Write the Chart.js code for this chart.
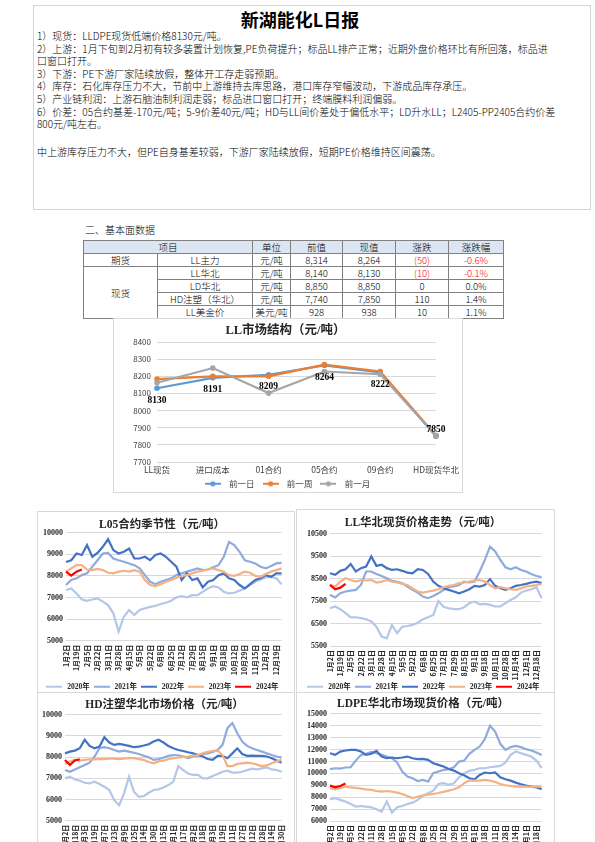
<!DOCTYPE html>
<html>
<head>
<meta charset="utf-8">
<script src="https://cdn.jsdelivr.net/npm/chart.js@4.4.1/dist/chart.umd.min.js"></script>
<style>
  body { margin: 0; width: 595px; height: 842px; overflow: hidden; background: #fff; position: relative;
         font-family: "Noto Sans CJK SC", sans-serif; color: #000; }
  .abs { position: absolute; }
  #report { left: 33px; top: 5px; width: 556px; height: 203px; border: 1px solid #d4d4d4; }
  #rtitle { left: 33px; top: 7px; width: 534px; text-align: center; font-size: 18px; font-weight: bold; line-height: 24px; }
  .rtext { left: 37px; width: 552px; font-size: 10px; line-height: 12.6px; white-space: pre; font-weight: 300; }
  #sec { left: 85px; top: 223px; font-size: 10px; line-height: 14px; font-weight: 300; }
  #tbl { left: 83px; top: 240px; border-collapse: collapse; font-size: 9.5px; table-layout: fixed; }
  #tbl td, #tbl th { border: 1px solid #808080; padding: 0; text-align: center; font-weight: 300; height: 12px; line-height: 12px; }
  #tbl th { background: #dce6f2; }
  #tbl .neg { color: #ff0000; }
  .frame { border: 1px solid #d9d9d9; }
  .box { position: absolute; }
</style>
</head>
<body>
<div id="report" class="abs"></div>
<div id="rtitle" class="abs">新湖能化L日报</div>
<div class="abs rtext" style="top:30px">1）现货：LLDPE现货低端价格8130元/吨。
2）上游：1月下旬到2月初有较多装置计划恢复,PE负荷提升；标品LL排产正常；近期外盘价格环比有所回落，标品进
口窗口打开。
3）下游：PE下游厂家陆续放假，整体开工存走弱预期。
4）库存：石化库存压力不大，节前中上游维持去库思路，港口库存窄幅波动，下游成品库存承压。
5）产业链利润：上游石脑油制利润走弱；标品进口窗口打开；终端膜料利润偏弱。
6）价差：05合约基差-170元/吨；5-9价差40元/吨；HD与LL间价差处于偏低水平；LD升水LL；L2405-PP2405合约价差
800元/吨左右。</div>
<div class="abs rtext" style="top:146px">中上游库存压力不大，但PE自身基差较弱，下游厂家陆续放假，短期PE价格维持区间震荡。</div>

<div id="sec" class="abs">二、基本面数据</div>
<table id="tbl" class="abs">
  <colgroup><col style="width:74px"><col style="width:95px"><col style="width:38px"><col style="width:52px"><col style="width:53px"><col style="width:53px"><col style="width:55px"></colgroup>
  <tr><th colspan="2">项目</th><th>单位</th><th>前值</th><th>现值</th><th>涨跌</th><th>涨跌幅</th></tr>
  <tr><td>期货</td><td>LL主力</td><td>元/吨</td><td>8,314</td><td>8,264</td><td class="neg">(50)</td><td class="neg">-0.6%</td></tr>
  <tr><td rowspan="4">现货</td><td>LL华北</td><td>元/吨</td><td>8,140</td><td>8,130</td><td class="neg">(10)</td><td class="neg">-0.1%</td></tr>
  <tr><td>LD华北</td><td>元/吨</td><td>8,850</td><td>8,850</td><td>0</td><td>0.0%</td></tr>
  <tr><td>HD注塑（华北）</td><td>元/吨</td><td>7,740</td><td>7,850</td><td>110</td><td>1.4%</td></tr>
  <tr><td>LL美金价</td><td>美元/吨</td><td>928</td><td>938</td><td>10</td><td>1.1%</td></tr>
</table>

<div class="abs frame" style="left:113px;top:318px;width:348px;height:173px"></div>
<div class="box" style="left:113px;top:318px;width:349px;height:181px"><canvas id="mkt"></canvas></div>

<div class="abs frame" style="left:37px;top:511px;width:256px;height:180px"></div>
<div class="abs frame" style="left:296px;top:509px;width:257px;height:182px"></div>
<div class="abs frame" style="left:37px;top:692px;width:256px;height:190px"></div>
<div class="abs frame" style="left:296px;top:692px;width:257px;height:190px"></div>
<div class="box" style="left:37px;top:511px;width:257px;height:194px"><canvas id="l05"></canvas></div>
<div class="box" style="left:296px;top:509px;width:258px;height:196px"><canvas id="llhb"></canvas></div>
<div class="box" style="left:37px;top:692px;width:257px;height:193px"><canvas id="hd"></canvas></div>
<div class="box" style="left:296px;top:692px;width:258px;height:193px"><canvas id="ldpe"></canvas></div>

<script>
// LL market structure
const mktCats = ['LL现货', '进口成本', '01合约', '05合约', '09合约', 'HD现货华北'];
const mktDay = [8130, 8191, 8209, 8264, 8222, 7850];
const mktWeek = [8184, 8200, 8200, 8268, 8228, 7855];
const mktMonth = [8162, 8248, 8102, 8228, 8212, 7855];

// seasonal charts: tick labels (every other category)
const l05Ticks = ['1月2日', '1月19日', '2月5日', '2月22日', '3月11日', '3月28日', '4月15日', '5月5日', '5月22日', '6月8日', '6月25日',
  '7月12日', '7月29日', '8月15日', '9月1日', '9月18日', '10月12日', '10月29日', '11月15日', '12月2日', '12月19日'];
const spotTicks = ['1月2日', '1月19日', '2月5日', '2月22日', '3月11日', '3月28日', '4月15日', '5月5日', '5月22日', '6月8日', '6月25日',
  '7月12日', '7月29日', '8月15日', '9月1日', '9月18日', '10月11日', '10月28日', '11月14日', '12月1日', '12月18日'];
const hdTicks = ['1月2日', '1月18日', '2月3日', '2月19日', '3月7日', '3月23日', '4月9日', '4月25日', '5月14日', '5月30日', '6月15日', '7月1日',
  '7月17日', '8月2日', '8月18日', '9月3日', '9月19日', '10月11日', '10月27日', '11月12日', '11月28日', '12月14日', '12月30日'];

const seriesNames = ['2020年', '2021年', '2022年', '2023年', '2024年'];

// L05 contract seasonality
const l05_2020 = [7350, 7420, 7190, 6910, 6850, 6910, 6960, 6810, 6650, 6270, 5420, 6110, 6420, 6190, 6420, 6500, 6570, 6610, 6700, 6760, 6850,
  7010, 7070, 7010, 7110, 7110, 7270, 7420, 7530, 7470, 7270, 7190, 7220, 7320, 7420, 7580, 7730, 7840, 7930, 7960, 7890, 7620];
const l05_2021 = [7580, 7810, 7890, 8040, 8120, 8430, 8730, 9040, 9070, 8810, 8730, 8660, 8580, 8500, 8350, 8040, 7730, 7620, 7730, 7810, 7890,
  8040, 8120, 8200, 8270, 8350, 8270, 8300, 8400, 8500, 8890, 9580, 9430, 9120, 8730, 8660, 8580, 8430, 8350, 8460, 8580, 8610];
const l05_2022 = [8650, 8730, 9040, 8970, 9430, 8890, 9070, 9350, 9700, 9200, 9040, 9120, 9270, 8810, 8810, 8890, 8730, 8970, 9040, 8890, 8660,
  8430, 7810, 8120, 7810, 7890, 7470, 7730, 7810, 8040, 8120, 7890, 7810, 7580, 7420, 7620, 7810, 7890, 8040, 7960, 8120, 8120];
const l05_2023 = [8200, 8350, 8500, 8500, 8300, 8270, 8330, 8270, 8150, 8120, 8200, 8240, 8200, 8270, 8200, 7810, 7580, 7530, 7620, 7730, 7810,
  7920, 8000, 8040, 8120, 8200, 8240, 8300, 8350, 8270, 8200, 8040, 8000, 8090, 8200, 8150, 8000, 7960, 8090, 8200, 8270, 8350];
const l05_2024 = [8200, 8020, 8200, 8300];

// LL North China spot
const llhb_2020 = [7180, 7260, 7140, 6960, 6780, 6780, 6740, 6690, 6590, 6360, 5920, 5840, 6440, 6070, 6360, 6390, 6440, 6540, 6690, 6780, 6880,
  7500, 7250, 7180, 7140, 7140, 7230, 7410, 7480, 7360, 7380, 7330, 7260, 7260, 7410, 7550, 7670, 7880, 7970, 8030, 8120, 7630];
const llhb_2021 = [7780, 7660, 7850, 7930, 7970, 8000, 8220, 8820, 8820, 8710, 8620, 8520, 8400, 8360, 8300, 8150, 8000, 7880, 7700, 7630, 7730,
  7850, 8000, 8120, 8150, 8220, 8370, 8330, 8370, 8820, 9340, 9930, 9710, 9340, 9010, 8920, 9010, 8890, 8820, 8710, 8620, 8570];
const llhb_2022 = [8740, 8670, 8850, 8920, 9160, 8820, 8970, 9040, 9490, 9070, 9120, 8970, 8890, 8920, 8850, 8770, 8740, 8920, 8890, 8710, 8370,
  8180, 8070, 8000, 7930, 7850, 7930, 8030, 8180, 8150, 8220, 8480, 8180, 8070, 8000, 8070, 8180, 8220, 8270, 8330, 8370, 8300];
const llhb_2023 = [8220, 8150, 8370, 8520, 8440, 8370, 8440, 8420, 8440, 8330, 8370, 8440, 8370, 8330, 8270, 8220, 8070, 7930, 7880, 7930, 7970,
  8030, 8120, 8180, 8220, 8300, 8330, 8370, 8420, 8440, 8370, 8220, 8070, 8120, 8070, 8030, 8000, 8070, 8150, 8180, 8220, 8270];
const llhb_2024 = [8220, 8030, 8100, 8270];

// HD injection North China
const hd_2020 = [7000, 7080, 6950, 6890, 6790, 6760, 6840, 6730, 6600, 6450, 5970, 5730, 6290, 7080, 6370, 6130, 6160, 6320, 6450, 6480, 6570,
  6680, 6840, 7580, 7390, 7230, 7160, 7160, 7000, 7000, 7110, 7200, 7310, 7360, 7270, 7270, 7310, 7390, 7460, 7420, 7470, 7520, 7420, 7390, 7310];
const hd_2021 = [7390, 7310, 7420, 7520, 7630, 7740, 8030, 8420, 8470, 8420, 8340, 8260, 8310, 8260, 8210, 8150, 8070, 7990, 7870, 7910, 7980,
  8060, 8100, 8090, 8030, 7960, 8030, 8070, 8140, 8180, 8250, 8340, 8580, 9370, 9610, 9130, 8740, 8530, 8420, 8340, 8260, 8180, 8100, 8030, 7980];
const hd_2022 = [8180, 8260, 8310, 8420, 8820, 8530, 8420, 8500, 8940, 8690, 8580, 8630, 8580, 8530, 8470, 8500, 8550, 8610, 8740, 8820, 8690,
  8530, 8420, 8340, 8290, 8230, 8180, 8100, 8030, 7910, 7870, 8060, 8060, 7950, 8180, 8420, 8150, 8060, 8070, 8060, 8060, 8030, 7950, 7840, 7740];
const hd_2023 = [7680, 7790, 7870, 7840, 7870, 7900, 7900, 7910, 7910, 7930, 7930, 7910, 7930, 7950, 7950, 7910, 7870, 7770, 7710, 7800, 7840,
  7900, 7950, 7980, 8010, 8030, 8060, 8100, 8180, 8250, 8290, 8310, 8100, 7580, 7580, 7680, 7710, 7740, 7710, 7650, 7580, 7610, 7710, 7800, 7870];
const hd_2024 = [7870, 7630, 7840, 7900];

// LDPE North China spot
const ld_2020 = [7820, 7910, 7770, 7630, 7430, 7210, 7260, 7210, 7150, 6980, 6780, 7630, 6700, 7150, 7260, 7430, 7540, 7770, 8100, 8330, 8550,
  9110, 9170, 9030, 9170, 9670, 10010, 10210, 10290, 10430, 10430, 10510, 10570, 10630, 10910, 11550, 11830, 11690, 11550, 11410, 11070, 10430];
const ld_2021 = [10350, 10430, 10400, 10490, 10510, 11070, 11550, 11640, 11800, 11690, 11550, 11410, 11270, 10910, 10150, 9730, 9590, 9360, 9450, 9310, 10010,
  10150, 10290, 10350, 10510, 10990, 11070, 11640, 11970, 12250, 12870, 13990, 13510, 12480, 11970, 12200, 12310, 12200, 12030, 11920, 11750, 11550];
const ld_2022 = [11690, 11550, 11830, 11920, 11970, 11970, 11830, 11550, 11640, 11890, 11410, 11270, 11330, 11270, 11330, 11410, 11270, 11190, 11220, 11130, 10850,
  10710, 10570, 10370, 10230, 10010, 9840, 9590, 9500, 9870, 10070, 10010, 10070, 9670, 9500, 9390, 9220, 9080, 8970, 8890, 8830, 8660];
const ld_2023 = [8750, 8660, 8750, 8890, 8830, 8780, 8720, 8660, 8610, 8520, 8470, 8520, 8470, 8380, 8270, 8100, 7930, 8040, 8160, 8210, 8270,
  8350, 8440, 8550, 8660, 8830, 9170, 9390, 9390, 9390, 9450, 9390, 9280, 9110, 9000, 8940, 8890, 8910, 8890, 8860, 8890, 8890];
const ld_2024 = [8970, 8830, 8940, 9140];

const seriesColors = ['#b4c7e7', '#8faadc', '#4472c4', '#f4b183', '#ff0000'];
const serif = '"Liberation Serif", "Noto Sans CJK SC", serif';
const sans = '"Noto Sans CJK SC", sans-serif';

// small legend icon: a line, optionally with a dot in the middle
function lineIcon(color, width, dot) {
  const c = document.createElement('canvas');
  c.width = width;
  c.height = 8;
  const g = c.getContext('2d');
  g.strokeStyle = color;
  g.lineWidth = 2;
  g.beginPath();
  g.moveTo(0, 4);
  g.lineTo(width, 4);
  g.stroke();
  if (dot) {
    g.fillStyle = color;
    g.beginPath();
    g.arc(width / 2, 4, 2.6, 0, Math.PI * 2);
    g.fill();
  }
  return c;
}

function iconLabels(width, dot) {
  return chart => {
    const items = Chart.defaults.plugins.legend.labels.generateLabels(chart);
    items.forEach(it => {
      it.pointStyle = lineIcon(chart.data.datasets[it.datasetIndex].borderColor, width, dot);
    });
    return items;
  };
}

// value labels under the 前一日 points
const pointLabels = {
  id: 'pointLabels',
  afterDatasetsDraw(chart) {
    const meta = chart.getDatasetMeta(0);
    const ctx = chart.ctx;
    ctx.save();
    ctx.font = 'bold 9.5px ' + serif;
    ctx.fillStyle = '#000';
    ctx.textAlign = 'center';
    ctx.textBaseline = 'middle';
    meta.data.forEach((pt, i) => {
      const above = i === meta.data.length - 1;
      ctx.fillText(mktDay[i], pt.x, pt.y + (above ? -7 : 12));
    });
    ctx.restore();
  }
};

new Chart(document.getElementById('mkt'), {
  type: 'line',
  data: {
    labels: mktCats,
    datasets: [
      { label: '前一日', data: mktDay, borderColor: '#5b9bd5', backgroundColor: '#5b9bd5', order: 2 },
      { label: '前一周', data: mktWeek, borderColor: '#ed7d31', backgroundColor: '#ed7d31', order: 1 },
      { label: '前一月', data: mktMonth, borderColor: '#a5a5a5', backgroundColor: '#a5a5a5', order: 0 }
    ].map(d => Object.assign(d, { borderWidth: 2.2, pointRadius: 2.8, pointBorderWidth: 0, tension: 0 }))
  },
  options: {
    responsive: true,
    maintainAspectRatio: false,
    animation: false,
    layout: { padding: { left: 0, right: 4, top: 0, bottom: 1 } },
    plugins: {
      title: { display: true, text: 'LL市场结构（元/吨）', color: '#262626', font: { family: serif, size: 12.5, weight: 'bold' }, padding: { top: 5, bottom: 4 } },
      legend: {
        position: 'bottom',
        labels: { usePointStyle: true, pointStyleWidth: 24, boxHeight: 8, padding: 4, color: '#404040', font: { family: sans, size: 8.5 },
          generateLabels: iconLabels(16, true), sort: (a, b) => a.datasetIndex - b.datasetIndex }
      },
      tooltip: { enabled: false }
    },
    scales: {
      x: {
        grid: { display: false, drawTicks: false }, border: { display: false },
        ticks: { color: '#404040', font: { family: sans, size: 8.5 }, padding: 3, maxRotation: 0, autoSkip: false },
        afterFit: s => { s.height = 13.5; }
      },
      y: {
        min: 7700, max: 8400,
        ticks: { stepSize: 100, autoSkip: false, color: '#404040', font: { family: sans, size: 8 }, padding: 6, callback: v => String(v) },
        grid: { color: '#d9d9d9', drawTicks: false }, border: { display: false },
        afterFit: s => { s.width = 44; }
      }
    }
  },
  plugins: [pointLabels]
});

function seasonChart(id, ticks, series, yMin, yMax, title, lay) {
  const cats = ticks.flatMap(t => [t, '']).slice(0, series[0].length);
  new Chart(document.getElementById(id), {
    type: 'line',
    data: {
      labels: cats,
      datasets: series.map((d, i) => ({
        label: seriesNames[i], data: d, borderColor: seriesColors[i], backgroundColor: seriesColors[i],
        borderWidth: 2.2, pointRadius: 0, tension: 0, order: 4 - i
      }))
    },
    options: {
      responsive: true,
      maintainAspectRatio: false,
      animation: false,
      layout: { padding: lay.pad },
      plugins: {
        title: { display: true, text: title, color: '#262626', font: { family: serif, size: 11.5, weight: 'bold' }, padding: lay.tp },
        legend: {
          position: 'bottom',
          labels: { usePointStyle: true, pointStyleWidth: 18, boxHeight: 7, padding: 3, color: '#262626',
            font: { family: serif, size: 7.5, weight: 'bold' },
            generateLabels: iconLabels(16, false), sort: (a, b) => a.datasetIndex - b.datasetIndex }
        },
        tooltip: { enabled: false }
      },
      scales: {
        x: {
          grid: { display: false, drawTicks: false }, border: { display: false },
          ticks: { autoSkip: false, minRotation: 90, maxRotation: 90, padding: 4, color: '#262626',
            font: { family: sans, size: 7, weight: 'bold' } },
          afterFit: s => { s.height = lay.xh; }
        },
        y: {
          min: yMin, max: yMax,
          ticks: { stepSize: 1000, autoSkip: false, padding: 3, color: '#262626', font: { family: serif, size: 8, weight: 'bold' }, callback: v => String(v) },
          grid: { color: '#d9d9d9', drawTicks: false }, border: { display: false },
          afterFit: s => { s.width = lay.yw; }
        }
      }
    }
  });
}

seasonChart('l05', l05Ticks, [l05_2020, l05_2021, l05_2022, l05_2023, l05_2024], 5000, 10000, 'L05合约季节性（元/吨）',
  { pad: { left: 0, right: 7, top: 0, bottom: 4.5 }, tp: { top: 7, bottom: 1 }, xh: 39.3, yw: 29 });
seasonChart('llhb', spotTicks, [llhb_2020, llhb_2021, llhb_2022, llhb_2023, llhb_2024], 5500, 10500, 'LL华北现货价格走势（元/吨）',
  { pad: { left: 0, right: 4, top: 0, bottom: 4.5 }, tp: { top: 7, bottom: 4 }, xh: 34, yw: 34 });
seasonChart('hd', hdTicks, [hd_2020, hd_2021, hd_2022, hd_2023, hd_2024], 5000, 10000, 'HD注塑华北市场价格（元/吨）',
  { pad: { left: 0, right: 2, top: 0, bottom: 4 }, tp: { top: 6, bottom: 3 }, xh: 39.8, yw: 28 });
seasonChart('ldpe', spotTicks, [ld_2020, ld_2021, ld_2022, ld_2023, ld_2024], 6000, 15000, 'LDPE华北市场现货价格（元/吨）',
  { pad: { left: 0, right: 4, top: 0, bottom: 4 }, tp: { top: 5, bottom: 3 }, xh: 39.5, yw: 34 });
</script>
</body>
</html>
